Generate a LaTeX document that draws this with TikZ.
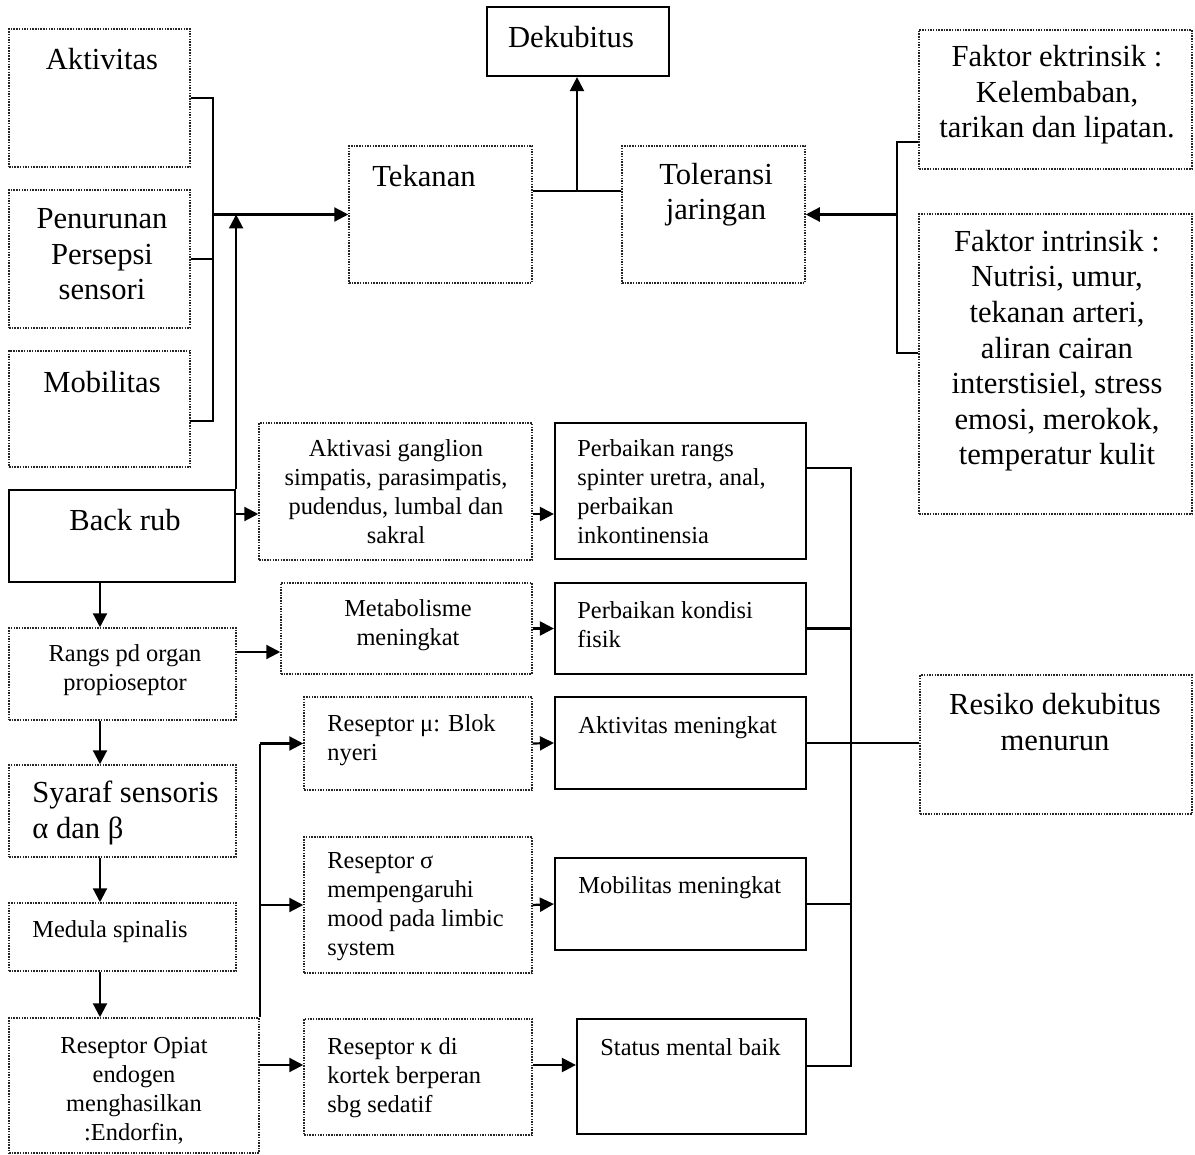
\documentclass[tikz,border=0pt]{standalone}
\usepackage{fontspec}
\setmainfont{Liberation Serif}
\usetikzlibrary{fit,arrows.meta}
\newcommand\fbig{\fontsize{15.3}{17.8}\selectfont}
\newcommand\fsml{\fontsize{12.2}{14.4}\selectfont}
\tikzset{
  dbox/.style={draw=black!85, line width=0.75pt, dash pattern=on 0.75pt off 0.6pt, inner sep=0pt},
  sbox/.style={draw=black, line width=1.1pt, inner sep=0pt},
  con/.style={line width=1.1pt},
  arr/.style={con, -{Triangle[length=7pt,width=7pt]}},
  tbc/.style={inner sep=0pt, font=\fbig, align=center, anchor=base},
  tbl/.style={inner sep=0pt, font=\fbig, align=left, anchor=base west},
  tsc/.style={inner sep=0pt, font=\fsml, align=center, anchor=base},
  tsl/.style={inner sep=0pt, font=\fsml, align=left, anchor=base west},
}
\begin{document}
\begin{tikzpicture}[x=0.5pt,y=-0.5pt]
\useasboundingbox[fill=white] (0,0) rectangle (1195,1155);
% boxes
\node[sbox, fit={(487,7)(669,76)}] (dek) {};
\node[dbox, fit={(9,29)(190,167)}] (akt) {};
\node[dbox, fit={(9,190)(190,328)}] (pen) {};
\node[dbox, fit={(9,351)(190,467)}] (mob) {};
\node[dbox, fit={(349,146)(532,283)}] (tek) {};
\node[dbox, fit={(622,146)(805,283)}] (tol) {};
\node[dbox, fit={(919,30)(1192,169)}] (fe) {};
\node[dbox, fit={(919,214)(1192,514)}] (fi) {};
\node[sbox, fit={(9,490)(235,582)}] (back) {};
\node[dbox, fit={(259,423)(532,560)}] (akv) {};
\node[sbox, fit={(555,423)(806,559)}] (pr1) {};
\node[dbox, fit={(9,628)(236,720)}] (rangs) {};
\node[dbox, fit={(281,583)(532,674)}] (meta) {};
\node[sbox, fit={(555,583)(806,674)}] (pk) {};
\node[dbox, fit={(9,765)(236,857)}] (syr) {};
\node[dbox, fit={(9,903)(236,971)}] (med) {};
\node[dbox, fit={(9,1018)(259,1153)}] (opi) {};
\node[dbox, fit={(304,697)(532,790)}] (mu) {};
\node[dbox, fit={(304,837)(532,973)}] (sg) {};
\node[dbox, fit={(304,1019)(532,1135)}] (ka) {};
\node[sbox, fit={(555,697)(806,789)}] (am) {};
\node[sbox, fit={(555,858)(806,950)}] (mm) {};
\node[sbox, fit={(577,1019)(806,1134)}] (st) {};
\node[dbox, fit={(920,675)(1192,814)}] (res) {};
% texts (multi-line nodes are placed by the baseline of their last line)
\node[tbc] (tdek) at (571,48) {Dekubitus};
\node[tbc] (takt) at (102,70) {Aktivitas};
\node[tbc] (tpen) at (102,300) {Penurunan\\Persepsi\\sensori};
\node[tbc] (tmob) at (102,393) {Mobilitas};
\node[tbl] (ttek) at (372,187) {Tekanan};
\node[tbc] (ttol) at (716,220) {Toleransi\\jaringan};
\node[tbc] (tfe) at (1057,138) {Faktor ektrinsik :\\Kelembaban,\\tarikan dan lipatan.};
\node[tbc] (tfi) at (1057,465) {Faktor intrinsik :\\Nutrisi, umur,\\tekanan arteri,\\aliran cairan\\interstisiel, stress\\emosi, merokok,\\temperatur kulit};
\node[tbc] (tback) at (125,530) {Back rub};
\node[tbl] (tsyr) at (32,838) {Syaraf sensoris\\α dan β};
\node[tbc] (tres) at (1055,750) {Resiko dekubitus\\menurun};
\node[tsc] (takv) at (396,543) {Aktivasi ganglion\\simpatis, parasimpatis,\\pudendus, lumbal dan\\sakral};
\node[tsl] (tpr1) at (577,543) {Perbaikan rangs\\spinter uretra, anal,\\perbaikan\\inkontinensia};
\node[tsc] (tmeta) at (408,645) {Metabolisme\\meningkat};
\node[tsl] (tpk) at (577,647) {Perbaikan kondisi\\fisik};
\node[tsc] (trangs) at (125,690) {Rangs pd organ\\propioseptor};
\node[tsl] (tmu) at (327,760) {Reseptor μ: Blok\\nyeri};
\node[tsl] (tam) at (578,733) {Aktivitas meningkat};
\node[tsl] (tmed) at (32,937) {Medula spinalis};
\node[tsl] (tsg) at (327,955) {Reseptor σ\\mempengaruhi\\mood pada limbic\\system};
\node[tsl] (tmm) at (578,893) {Mobilitas meningkat};
\node[tsc] (topi) at (134,1140) {Reseptor Opiat\\endogen\\menghasilkan\\:Endorfin,};
\node[tsl] (tka) at (327,1112) {Reseptor κ di\\kortek berperan\\sbg sedatif};
\node[tsl] (tst) at (600,1055) {Status mental baik};
% helper coordinates
\coordinate (bl1) at (213,98);
\coordinate (bl3) at (213,421);
\coordinate (mobc) at (190,421);
\coordinate (tt) at (577,191);
\coordinate (fb1) at (897,142);
\coordinate (fb2) at (897,353);
\coordinate (a1) at (235,514);
\coordinate (a2) at (0,652);
\coordinate (c100) at (100,0);
\coordinate (ky) at (0,1065);
\coordinate (r1) at (851,468);
\coordinate (r5) at (851,1066);
% left group to Tekanan
\draw[con] (akt.east) -- (bl1) -- (bl3) -- (mobc);
\draw[con] (pen.east) -- (pen.east -| bl1);
\draw[arr] (tek.west -| bl1) -- (tek.west);
\draw[arr] (back.north east) -- (back.north east |- tek.west);
% Tekanan / Toleransi to Dekubitus
\draw[con] (tek.east |- tt) -- (tol.west |- tt);
\draw[arr] (tt) -- (dek.south -| tt);
% faktor
\draw[con] (fe.west |- fb1) -- (fb1) -- (fb2) -- (fi.west |- fb2);
\draw[arr] (fb1 |- tol.east) -- (tol.east);
% back rub chain
\draw[arr] (back.east |- a1) -- (akv.west |- a1);
\draw[arr] (akv.east |- a1) -- (pr1.west |- a1);
\draw[arr] (back.south -| c100) -- (rangs.north -| c100);
\draw[arr] (rangs.east |- a2) -- (meta.west |- a2);
\draw[arr] (meta.east) -- (pk.west);
\draw[arr] (rangs.south -| c100) -- (syr.north -| c100);
\draw[arr] (syr.south -| c100) -- (med.north -| c100);
\draw[arr] (med.south -| c100) -- (opi.north -| c100);
% opiat receptors
\draw[con] (mu.west -| opi.east) -- (opi.north east);
\draw[arr] (mu.west -| opi.east) -- (mu.west);
\draw[arr] (sg.west -| opi.east) -- (sg.west);
\draw[arr] (ky -| opi.east) -- (ky -| ka.west);
\draw[arr] (mu.east) -- (am.west);
\draw[arr] (sg.east) -- (mm.west);
\draw[arr] (ky -| ka.east) -- (ky -| st.west);
% right bus to Resiko
\draw[con] (pr1.east |- r1) -- (r1) -- (r5) -- (st.east |- r5);
\draw[con] (pk.east) -- (pk.east -| r1);
\draw[con] (mm.east) -- (mm.east -| r1);
\draw[con] (am.east) -- (res.west |- am.east);
\end{tikzpicture}
\end{document}
